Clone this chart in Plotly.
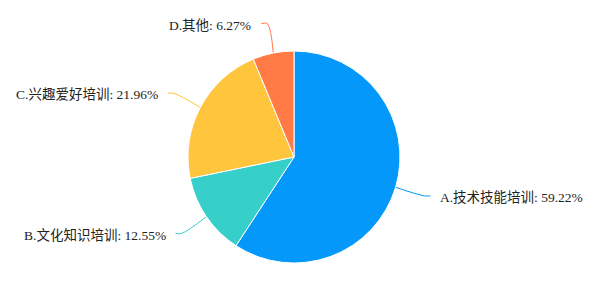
import math
import plotly.graph_objects as go

labels = ["A.技术技能培训", "B.文化知识培训", "C.兴趣爱好培训", "D.其他"]
values = [59.22, 12.55, 21.96, 6.27]
colors = ["#0398FA", "#36CFC9", "#FFC53D", "#FF7A45"]

W, H = 600, 300
CX, CY, R = 294, 157, 106
L1, L2, GAP = 30, 6, 8
FONT = "Liberation Serif, Times New Roman, Noto Sans CJK SC, serif"

fig = go.Figure()
fig.add_trace(go.Pie(
    labels=labels, values=values, sort=False, direction="clockwise", rotation=0,
    marker=dict(colors=colors, line=dict(color="#ffffff", width=1)),
    textinfo="none", hoverinfo="label+percent", showlegend=False,
    domain=dict(x=[(CX - R) / W, (CX + R) / W], y=[(H - CY - R) / H, (H - CY + R) / H]),
))

total = sum(values)
cum = 0.0
for lab, v, c in zip(labels, values, colors):
    mid = (cum + v / 2) / total * 2 * math.pi  # clockwise from top
    cum += v
    dx, dy = math.sin(mid), -math.cos(mid)
    x0, y0 = CX + R * dx, CY + R * dy
    x1, y1 = CX + (R + L1) * dx, CY + (R + L1) * dy
    side = 1 if dx >= 0 else -1
    x2, y2 = x1 + side * L2, y1
    fig.add_trace(go.Scatter(
        x=[x0, x1, x2], y=[y0, y1, y2], mode="lines",
        line=dict(color=c, width=1, shape="spline", smoothing=1),
        hoverinfo="skip", showlegend=False, xaxis="x", yaxis="y",
    ))
    pct = v / total * 100
    fig.add_annotation(
        x=x2 + side * GAP, y=y2 + 1.5, xref="x", yref="y",
        text=f"{lab}: {pct:.2f}%", showarrow=False,
        xanchor="left" if side > 0 else "right", yanchor="middle",
        font=dict(family=FONT, size=13.5, color="#222222"),
    )

fig.update_layout(
    width=W, height=H, margin=dict(l=0, r=0, t=0, b=0),
    paper_bgcolor="#ffffff", plot_bgcolor="rgba(0,0,0,0)",
    xaxis=dict(range=[0, W], visible=False, fixedrange=True),
    yaxis=dict(range=[H, 0], visible=False, fixedrange=True),
)
fig.write_html("out.html")
